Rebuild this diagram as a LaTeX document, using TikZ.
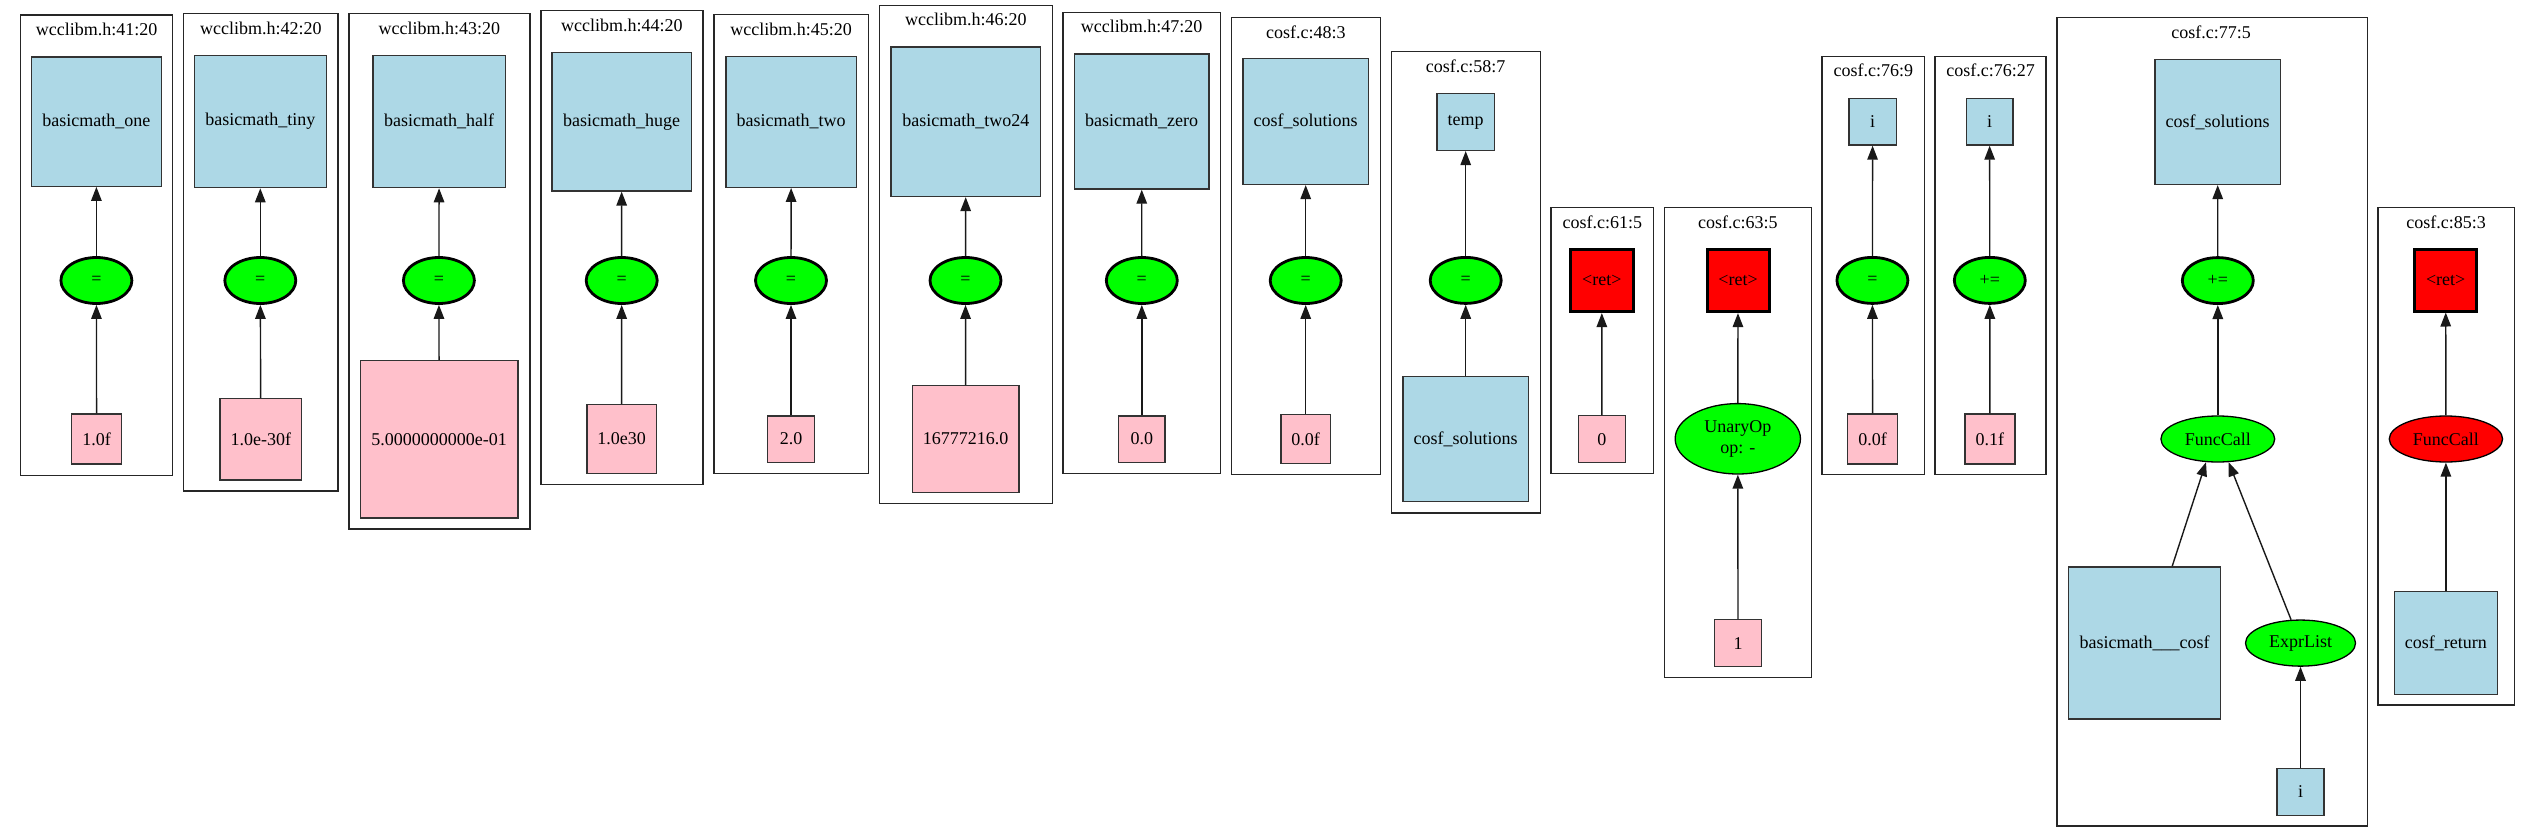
\documentclass[tikz,border=0pt]{standalone}
\usepackage{fontspec}
\setmainfont{Liberation Serif}
\usetikzlibrary{shapes.geometric,arrows.meta,calc}
\definecolor{lblue}{HTML}{ADD8E6}
\definecolor{lpink}{HTML}{FFC0CB}
\definecolor{lgreen}{HTML}{00FF00}
\definecolor{lred}{HTML}{FF0000}
\tikzset{
  base/.style={font=\fontsize{18pt}{21pt}\selectfont, inner sep=0pt},
  cluster/.style={draw=black!85, line width=1.4pt},
  clabel/.style={base},
  sz/.style 2 args={minimum width=#1pt, minimum height=#2pt},
  var/.style={base, rectangle, draw=black!80, fill=lblue, line width=1.4pt},
  lit/.style={base, rectangle, draw=black!80, fill=lpink, line width=1.4pt},
  ret/.style={base, rectangle, draw=black, fill=lred, line width=3pt},
  op/.style={base, ellipse, draw=black, fill=lgreen, line width=2.8pt, minimum width=71pt, minimum height=46pt},
  fn/.style={base, ellipse, draw=black, fill=lgreen, line width=1.3pt},
  fnred/.style={base, ellipse, draw=black, fill=lred, line width=1.3pt},
  edge/.style={draw=black!90, line width=1.4pt, -{Triangle[length=14pt,width=10.5pt]}}
}
\begin{document}
\begin{tikzpicture}[x=1pt,y=-1pt]
\useasboundingbox (0,0) rectangle (2532,832);

% ---- C1
\draw[cluster] (20.7,15.2) rectangle (172.6,475.2);
\node[clabel] (l1) at (96.6,29.8) {wcclibm.h:41:20};
\node[var,sz={130}{129}] (a1) at (96.4,121.7) {basicmath\_one};
\node[op] (b1) at (96.4,280.5) {=};
\node[lit,sz={50}{50}] (c1) at (96.6,439.1) {1.0f};
\draw[edge] (c1) -- (b1);
\draw[edge] (b1) -- (a1);

% ---- C2
\draw[cluster] (183.7,13.8) rectangle (337.9,490.8);
\node[clabel] (l2) at (260.8,28.5) {wcclibm.h:42:20};
\node[var,sz={132}{132}] (a2) at (260.3,121.6) {basicmath\_tiny};
\node[op] (b2) at (260.3,280.5) {=};
\node[lit,sz={81.5}{81.5}] (c2) at (260.8,439.4) {1.0e-30f};
\draw[edge] (c2) -- (b2);
\draw[edge] (b2) -- (a2);

% ---- C3
\draw[cluster] (348.9,13.8) rectangle (529.8,528.9);
\node[clabel] (l3) at (439.3,28.5) {wcclibm.h:43:20};
\node[var,sz={132.5}{132}] (a3) at (439.2,121.6) {basicmath\_half};
\node[op] (b3) at (438.9,280.5) {=};
\node[lit,sz={157.3}{157.3}] (c3) at (439.2,439.2) {5.0000000000e-01};
\draw[edge] (c3) -- (b3);
\draw[edge] (b3) -- (a3);

% ---- C4
\draw[cluster] (540.9,10.6) rectangle (703,484.4);
\node[clabel] (l4) at (621.9,25.3) {wcclibm.h:44:20};
\node[var,sz={139.4}{138.5}] (a4) at (621.6,121.7) {basicmath\_huge};
\node[op] (b4) at (621.7,280.5) {=};
\node[lit,sz={69.6}{68.7}] (c4) at (621.6,438.9) {1.0e30};
\draw[edge] (c4) -- (b4);
\draw[edge] (b4) -- (a4);

% ---- C5
\draw[cluster] (713.9,14.7) rectangle (868.6,473.4);
\node[clabel] (l5) at (791.2,28.9) {wcclibm.h:45:20};
\node[var,sz={130.6}{130.7}] (a5) at (791.2,121.9) {basicmath\_two};
\node[op] (b5) at (791,280.5) {=};
\node[lit,sz={46.7}{46.2}] (c5) at (791,439.1) {2.0};
\draw[edge] (c5) -- (b5);
\draw[edge] (b5) -- (a5);

% ---- C6
\draw[cluster] (879.2,5.5) rectangle (1052.7,503.7);
\node[clabel] (l6) at (965.9,19.7) {wcclibm.h:46:20};
\node[var,sz={149.5}{149.5}] (a6) at (965.9,121.7) {basicmath\_two24};
\node[op] (b6) at (965.5,280.5) {=};
\node[lit,sz={106.8}{106.8}] (c6) at (965.7,439.1) {16777216.0};
\draw[edge] (c6) -- (b6);
\draw[edge] (b6) -- (a6);

% ---- C7
\draw[cluster] (1062.8,12.4) rectangle (1220.3,473.4);
\node[clabel] (l7) at (1141.5,26.6) {wcclibm.h:47:20};
\node[var,sz={134.8}{134.8}] (a7) at (1141.7,121.6) {basicmath\_zero};
\node[op] (b7) at (1141.8,280.5) {=};
\node[lit,sz={46.7}{46.2}] (c7) at (1141.8,439.1) {0.0};
\draw[edge] (c7) -- (b7);
\draw[edge] (b7) -- (a7);

% ---- C8
\draw[cluster] (1231.3,17.4) rectangle (1380.5,474.7);
\node[clabel] (l8) at (1305.9,32.1) {cosf.c:48:3};
\node[var,sz={125.7}{125.6}] (a8) at (1305.7,121.6) {cosf\_solutions};
\node[op] (b8) at (1305.7,280.5) {=};
\node[lit,sz={49.4}{49.4}] (c8) at (1305.7,439) {0.0f};
\draw[edge] (c8) -- (b8);
\draw[edge] (b8) -- (a8);

% ---- C9
\draw[cluster] (1391.2,51.3) rectangle (1540.3,513);
\node[clabel] (l9) at (1465.7,66.1) {cosf.c:58:7};
\node[var,sz={57.8}{57}] (a9) at (1465.7,121.9) {temp};
\node[op] (b9) at (1465.7,280.4) {=};
\node[var,sz={125.7}{125.2}] (c9) at (1465.7,439) {cosf\_solutions};
\draw[edge] (c9) -- (b9);
\draw[edge] (b9) -- (a9);

% ---- C10
\draw[cluster] (1551,207.6) rectangle (1653.7,473.7);
\node[clabel] (l10) at (1602.3,221.9) {cosf.c:61:5};
\node[ret,sz={62.5}{62}] (a10) at (1601.8,280.6) {<ret>};
\node[lit,sz={47.1}{46.7}] (c10) at (1601.9,439.1) {0};
\draw[edge] (c10) -- (a10);

% ---- C11
\draw[cluster] (1664.4,207.6) rectangle (1811.3,677.7);
\node[clabel] (l11) at (1737.8,221.9) {cosf.c:63:5};
\node[ret,sz={62}{62}] (a11) at (1738,280.6) {<ret>};
\node[fn,sz={125.3}{70.4},align=center] (b11) at (1737.8,438.8) {UnaryOp\\op: -};
\node[lit,sz={47.1}{46.7}] (c11) at (1738,643.1) {1};
\draw[edge] (c11) -- (b11);
\draw[edge] (b11) -- (a11);

% ---- C12
\draw[cluster] (1822,56.7) rectangle (1924.6,474.6);
\node[clabel] (l12) at (1873.3,70.5) {cosf.c:76:9};
\node[var,sz={47.6}{46.6}] (a12) at (1872.6,121.7) {i};
\node[op] (b12) at (1872.4,280.4) {=};
\node[lit,sz={50.2}{49.8}] (c12) at (1872.6,438.9) {0.0f};
\draw[edge] (c12) -- (b12);
\draw[edge] (b12) -- (a12);

% ---- C13
\draw[cluster] (1934.9,56.7) rectangle (2046,474.6);
\node[clabel] (l13) at (1990.5,70.5) {cosf.c:76:27};
\node[var,sz={46.7}{46.6}] (a13) at (1989.6,121.7) {i};
\node[op] (b13) at (1989.8,280.4) {+=};
\node[lit,sz={49.8}{49.8}] (c13) at (1989.9,438.9) {0.1f};
\draw[edge] (c13) -- (b13);
\draw[edge] (b13) -- (a13);

% ---- C14
\draw[cluster] (2056.8,17.3) rectangle (2367.2,826);
\node[clabel] (l14) at (2211,32.2) {cosf.c:77:5};
\node[var,sz={125.5}{125}] (a14) at (2217.6,121.9) {cosf\_solutions};
\node[op] (b14) at (2217.8,280.6) {+=};
\node[fn,sz={113.8}{46}] (f14) at (2217.8,439) {FuncCall};
\node[var,sz={152.5}{152.3}] (m14) at (2144.5,643) {basicmath\_\_\_cosf};
\node[fn,sz={110}{46.1}] (e14) at (2300.5,643.1) {ExprList};
\node[var,sz={47.3}{47}] (i14) at (2300.5,791.7) {i};
\draw[edge] (b14) -- (a14);
\draw[edge] (f14) -- (b14);
\draw[edge] ($(m14.north west)!0.68!(m14.north east)$) -- (f14.-117);
\draw[edge] (e14.112) -- (f14.-65);
\draw[edge] (i14) -- (e14);

% ---- C15
\draw[cluster] (2378,207.3) rectangle (2514.3,705);
\node[clabel] (l15) at (2446.2,222.2) {cosf.c:85:3};
\node[ret,sz={61.7}{61.2}] (a15) at (2445.7,280.4) {<ret>};
\node[fnred,sz={113.3}{46}] (f15) at (2445.9,439) {FuncCall};
\node[var,sz={103}{102.6}] (c15) at (2445.9,642.9) {cosf\_return};
\draw[edge] (c15) -- (f15);
\draw[edge] (f15) -- (a15);
\end{tikzpicture}
\end{document}
